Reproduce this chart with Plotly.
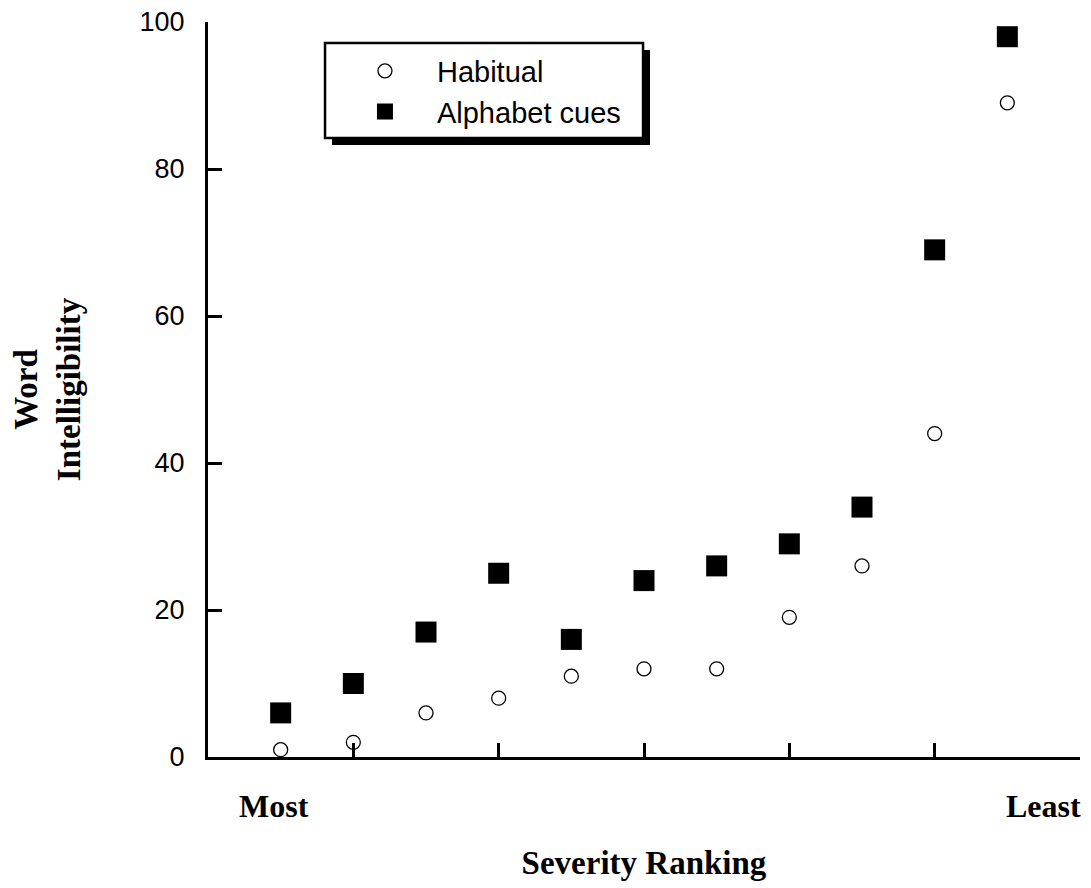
import plotly.graph_objects as go

severity_rank = [1, 2, 3, 4, 5, 6, 7, 8, 9, 10, 11]
habitual = [1, 2, 6, 8, 11, 12, 12, 19, 26, 44, 89]
alphabet_cues = [6, 10, 17, 25, 16, 24, 26, 29, 34, 69, 98]
y_ticks = [0, 20, 40, 60, 80, 100]
x_ticks = [2, 4, 6, 8, 10, 12]

SERIF = "Liberation Serif, Times New Roman, serif"
SANS = "Liberation Sans, Arial, sans-serif"

fig = go.Figure()
fig.add_trace(go.Scatter(
    x=severity_rank, y=habitual, mode="markers", name="Habitual",
    marker=dict(symbol="circle-open", size=14, color="black", line=dict(width=1.3, color="#222")),
    cliponaxis=False,
))
fig.add_trace(go.Scatter(
    x=severity_rank, y=alphabet_cues, mode="markers", name="Alphabet cues",
    marker=dict(symbol="square", size=21, color="black", line=dict(width=0)),
    cliponaxis=False,
))

# legend box with drop shadow
fig.add_shape(type="rect", xref="paper", yref="paper",
              x0=0.1422, x1=0.5069, y0=0.8327, y1=0.9619,
              fillcolor="black", line=dict(width=0), layer="above")
fig.add_shape(type="rect", xref="paper", yref="paper",
              x0=0.1342, x1=0.4989, y0=0.8422, y1=0.9714,
              fillcolor="white", line=dict(width=2.5, color="black"), layer="above")

fig.add_annotation(text="<b>Most</b>", xref="x", yref="paper", x=0.91, y=-0.066,
                   showarrow=False, font=dict(family=SERIF, size=32, color="black"),
                   xanchor="center", yanchor="middle")
fig.add_annotation(text="<b>Least</b>", xref="x", yref="paper", x=11.5, y=-0.066,
                   showarrow=False, font=dict(family=SERIF, size=32, color="black"),
                   xanchor="center", yanchor="middle")

fig.update_layout(
    width=1091, height=888,
    margin=dict(l=200, r=19, t=14, b=139, autoexpand=False),
    paper_bgcolor="white", plot_bgcolor="white",
    showlegend=True,
    legend=dict(x=0.1433, y=0.968, xanchor="left", yanchor="top",
                bgcolor="rgba(0,0,0,0)", borderwidth=0,
                font=dict(family=SANS, size=29, color="black"),
                itemwidth=94, tracegroupgap=0),
    xaxis=dict(range=[0, 12], tickvals=x_ticks, showticklabels=False,
               ticks="inside", ticklen=14, tickwidth=3, tickcolor="black",
               showline=True, linewidth=3, linecolor="black",
               showgrid=False, zeroline=False, automargin=False,
               title=dict(text="<b>Severity Ranking</b>", standoff=92,
                          font=dict(family=SERIF, size=33, color="black"))),
    yaxis=dict(range=[0, 100], tickvals=y_ticks,
               ticks="inside", ticklen=14, tickwidth=3, tickcolor="black",
               showline=True, linewidth=3, linecolor="black",
               showgrid=False, zeroline=False, automargin=False,
               tickfont=dict(family=SANS, size=27, color="black"),
               ticklabelstandoff=15, ticklabeloverflow="allow",
               title=dict(text="<b>Word<br>Intelligibility</b>", standoff=60,
                          font=dict(family=SERIF, size=33, color="black"))),
)

fig.write_html("out.html")
